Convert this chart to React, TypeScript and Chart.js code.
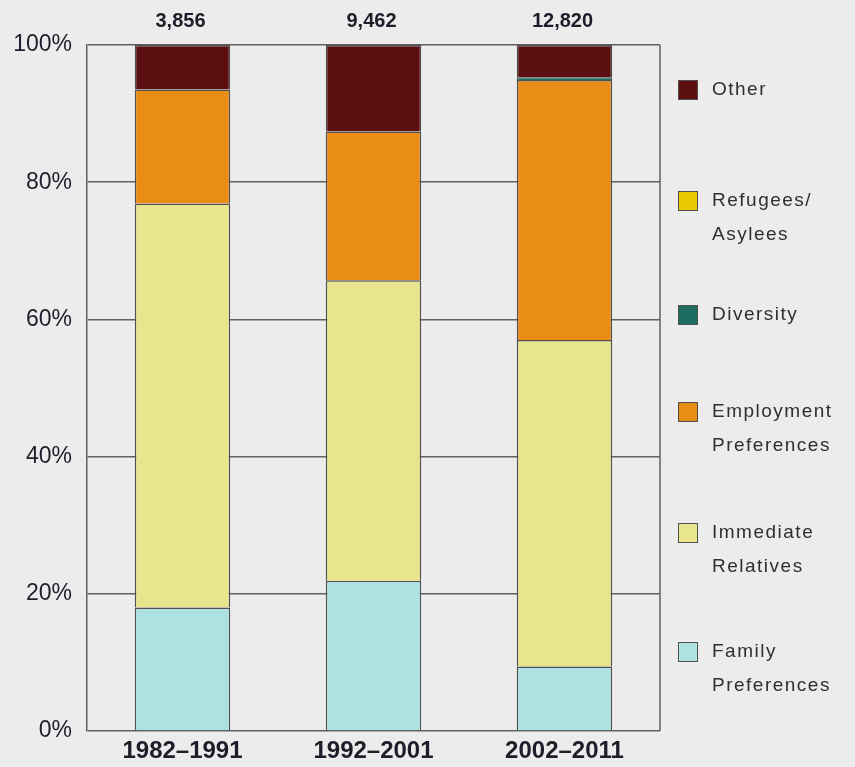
import React, { useEffect, useRef } from "react";
import { Chart, registerables } from "chart.js";

Chart.register(...registerables);

// Decades shown on the x axis
const periods = ["1982–1991", "1992–2001", "2002–2011"];
// Total count per decade, printed above each column
const totals = [3856, 9462, 12820];

// Share (%) of each category per decade, bottom to top
const familyPreferences = [18.0, 21.9, 9.4];
const immediateRelatives = [58.9, 43.8, 47.6];
const employmentPreferences = [16.6, 21.7, 37.9];
const diversity = [0, 0, 0.4];
const refugeesAsylees = [0, 0, 0];
const other = [6.5, 12.6, 4.7];

const yTicks = [0, 20, 40, 60, 80, 100];

const BG = "#ececec";
const GRID = "#606060";
const EDGE = "#505050";
const TEXT = "#1e1e2a";

const COLORS = {
  family: "#aee2e2",
  immediate: "#e9e58e",
  employment: "#e98d16",
  diversity: "#1c6e63",
  refugees: "#e8c800",
  other: "#5c0f10",
};

// Legend entries, top to bottom, with the series they describe
const legendItems = [
  { lines: ["Other"], color: COLORS.other, y: 90 },
  { lines: ["Refugees/", "Asylees"], color: COLORS.refugees, y: 201 },
  { lines: ["Diversity"], color: COLORS.diversity, y: 315 },
  { lines: ["Employment", "Preferences"], color: COLORS.employment, y: 412 },
  { lines: ["Immediate", "Relatives"], color: COLORS.immediate, y: 533 },
  { lines: ["Family", "Preferences"], color: COLORS.family, y: 652 },
];

const nz = (arr: number[]) => arr.map((v) => (v > 0 ? v : null));

const framePlugin = {
  id: "frame",
  beforeDatasetsDraw(chart: any) {
    const { ctx, chartArea } = chart;
    ctx.save();
    ctx.strokeStyle = GRID;
    ctx.lineWidth = 1.5;
    ctx.beginPath();
    ctx.moveTo(chartArea.right, chartArea.top);
    ctx.lineTo(chartArea.right, chartArea.bottom);
    ctx.stroke();
    ctx.restore();
  },
};

const totalsPlugin = {
  id: "totals",
  afterDatasetsDraw(chart: any) {
    const { ctx } = chart;
    const xScale = chart.scales.x;
    ctx.save();
    ctx.fillStyle = TEXT;
    ctx.font = "bold 20px 'Liberation Sans', Arial, sans-serif";
    ctx.textAlign = "center";
    ctx.textBaseline = "middle";
    totals.forEach((t, i) => {
      ctx.fillText(t.toLocaleString("en-US"), xScale.getPixelForValue(i) - 2, 21);
    });
    ctx.restore();
  },
};

const legendPlugin = {
  id: "sideLegend",
  afterDraw(chart: any) {
    const { ctx } = chart;
    ctx.save();
    (ctx as any).letterSpacing = "1.5px";
    ctx.font = "19px 'Liberation Sans', Arial, sans-serif";
    ctx.textAlign = "left";
    ctx.textBaseline = "middle";
    legendItems.forEach((item) => {
      ctx.fillStyle = item.color;
      ctx.fillRect(678, item.y - 10, 20, 20);
      ctx.strokeStyle = EDGE;
      ctx.lineWidth = 1;
      ctx.strokeRect(678.5, item.y - 9.5, 19, 19);
      ctx.fillStyle = "#2e2e34";
      item.lines.forEach((line, j) => {
        ctx.fillText(line, 712, item.y + j * 34);
      });
    });
    ctx.restore();
  },
};

export default function App() {
  const canvasRef = useRef<HTMLCanvasElement | null>(null);

  useEffect(() => {
    if (!canvasRef.current) return;
    const ds = (label: string, data: (number | null)[], color: string) => ({
      label,
      data,
      backgroundColor: color,
      borderColor: EDGE,
      borderWidth: 1.5,
      categoryPercentage: 1,
      barPercentage: 0.5,
    });
    const chart = new Chart(canvasRef.current, {
      type: "bar",
      data: {
        labels: periods,
        datasets: [
          ds("Family Preferences", nz(familyPreferences), COLORS.family),
          ds("Immediate Relatives", nz(immediateRelatives), COLORS.immediate),
          ds("Employment Preferences", nz(employmentPreferences), COLORS.employment),
          ds("Diversity", nz(diversity), COLORS.diversity),
          ds("Refugees/Asylees", nz(refugeesAsylees), COLORS.refugees),
          ds("Other", nz(other), COLORS.other),
        ],
      },
      options: {
        animation: false,
        responsive: false,
        devicePixelRatio: 1,
        layout: { padding: { top: 45, right: 195, left: 0, bottom: 0 } },
        plugins: {
          legend: { display: false },
          tooltip: { enabled: false },
        },
        scales: {
          x: {
            stacked: true,
            grid: { display: false, drawTicks: false },
            border: { display: false },
            ticks: {
              color: TEXT,
              padding: 6,
              font: { family: "'Liberation Sans', Arial, sans-serif", size: 24, weight: "bold" },
            },
            afterFit(scale: any) {
              scale.height = 36;
            },
          },
          y: {
            stacked: true,
            min: 0,
            max: 100,
            afterBuildTicks(scale: any) {
              scale.ticks = yTicks.map((v) => ({ value: v }));
            },
            grid: { color: GRID, lineWidth: 1.5, drawTicks: false },
            border: { display: true, color: GRID, width: 1.5 },
            ticks: {
              color: TEXT,
              padding: 15,
              font: { family: "'Liberation Sans', Arial, sans-serif", size: 23 },
              callback: (v: any) => `${v}%`,
            },
            afterFit(scale: any) {
              scale.width = 87;
            },
          },
        },
      },
      plugins: [framePlugin, totalsPlugin, legendPlugin],
    });
    return () => chart.destroy();
  }, []);

  return (
    <div
      style={{
        position: "fixed",
        left: 0,
        top: 0,
        width: 855,
        height: 767,
        background: BG,
      }}
    >
      <canvas ref={canvasRef} width={855} height={767} style={{ display: "block" }} />
    </div>
  );
}
